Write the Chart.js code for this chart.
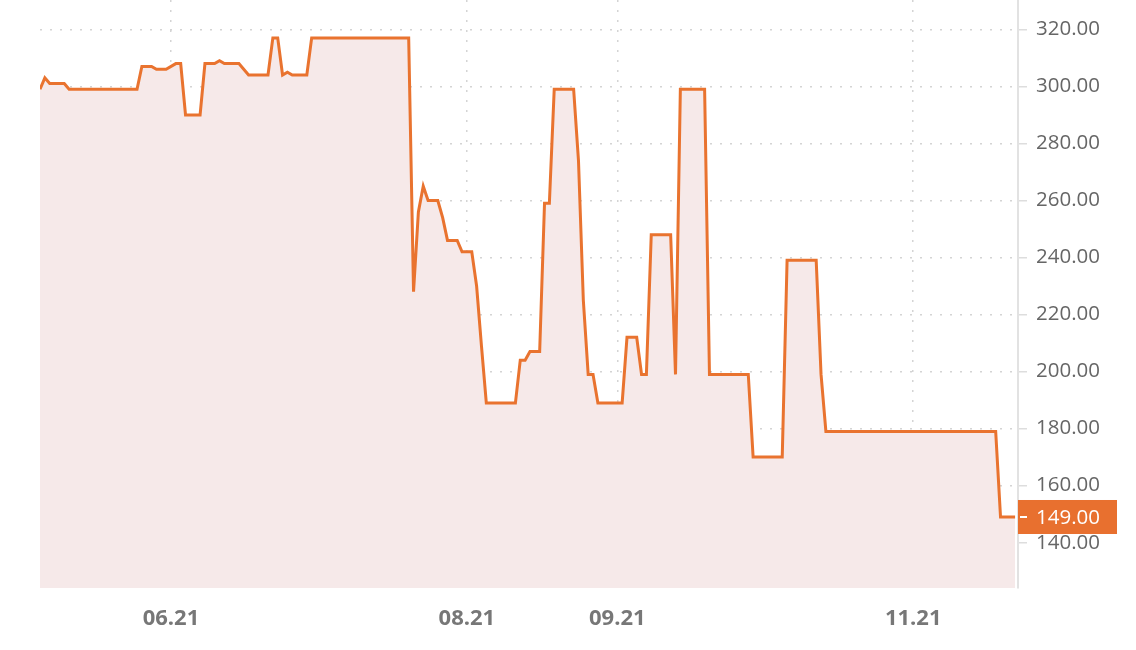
<!DOCTYPE html>
<html>
<head>
<meta charset="utf-8">
<script src="https://cdn.jsdelivr.net/npm/chart.js@4"></script>
<style>
    html, body { margin: 0; padding: 0; background: #ffffff; }
    #wrap { width: 1136px; height: 650px; }
</style>
</head>
<body>
<div id="wrap"><canvas id="priceChart" width="1136" height="650"></canvas></div>
<script>
// Daily closing prices (only the days where the line changes direction)
const dates = [
    '2021-05-05', '2021-05-06', '2021-05-07', '2021-05-10', '2021-05-11', '2021-05-25',
    '2021-05-26', '2021-05-28', '2021-05-29', '2021-05-31', '2021-06-02', '2021-06-03',
    '2021-06-04', '2021-06-07', '2021-06-08', '2021-06-10', '2021-06-11', '2021-06-12',
    '2021-06-15', '2021-06-17', '2021-06-21', '2021-06-22', '2021-06-23', '2021-06-24',
    '2021-06-25', '2021-06-26', '2021-06-29', '2021-06-30', '2021-07-20', '2021-07-21',
    '2021-07-22', '2021-07-23', '2021-07-24', '2021-07-26', '2021-07-27', '2021-07-28',
    '2021-07-30', '2021-07-31', '2021-08-02', '2021-08-03', '2021-08-04', '2021-08-05',
    '2021-08-11', '2021-08-12', '2021-08-13', '2021-08-14', '2021-08-16', '2021-08-17',
    '2021-08-18', '2021-08-19', '2021-08-23', '2021-08-24', '2021-08-25', '2021-08-26',
    '2021-08-27', '2021-08-28', '2021-09-02', '2021-09-03', '2021-09-05', '2021-09-06',
    '2021-09-07', '2021-09-08', '2021-09-12', '2021-09-13', '2021-09-14', '2021-09-19',
    '2021-09-20', '2021-09-28', '2021-09-29', '2021-10-05', '2021-10-06', '2021-10-12',
    '2021-10-13', '2021-10-14', '2021-11-18', '2021-11-19', '2021-11-22'
];
const prices = [
    299, 303, 301, 301, 299, 299,
    307, 307, 306, 306, 308, 308,
    290, 290, 308, 308, 309, 308,
    308, 304, 304, 317, 317, 304,
    305, 304, 304, 317, 317, 228,
    256, 265, 260, 260, 254, 246,
    246, 242, 242, 230, 209, 189,
    189, 204, 204, 207, 207, 259,
    259, 299, 299, 274, 225, 199,
    199, 189, 189, 212, 212, 199,
    199, 248, 248, 199, 299, 299,
    199, 199, 170, 170, 239, 239,
    199, 179, 179, 149, 149
];

// Axis ticks
const monthTicks = ['2021-06-01', '2021-08-01', '2021-09-01', '2021-11-01'];
const monthLabels = ['06.21', '08.21', '09.21', '11.21'];
const priceTicks = [140, 160, 180, 200, 220, 240, 260, 280, 300, 320];

const ORANGE = '#e9732f';
const DAY = 86400000;

function dayNum(s) {
    const p = s.split('-').map(Number);
    return Date.UTC(p[0], p[1] - 1, p[2]) / DAY;
}

const points = dates.map((d, i) => ({ x: dayNum(d), y: prices[i] }));

// no extra label padding, the plot runs to the top edge
function noPadding(s) {
    s.paddingTop = 0;
    s.paddingBottom = 0;
    s.paddingLeft = 0;
    s.paddingRight = 0;
}

// last-price badge on the right axis
const lastPriceBadge = {
    id: 'lastPriceBadge',
    afterDraw(chart) {
        const ctx = chart.ctx;
        const yScale = chart.scales.y;
        const area = chart.chartArea;
        const last = prices[prices.length - 1];
        const y = yScale.getPixelForValue(last);

        ctx.save();
        ctx.fillStyle = '#e8702f';
        ctx.fillRect(area.right, y - 17, 99, 34);

        ctx.strokeStyle = '#ffffff';
        ctx.lineWidth = 2;
        ctx.beginPath();
        ctx.moveTo(area.right + 2, y);
        ctx.lineTo(area.right + 9, y);
        ctx.stroke();

        ctx.fillStyle = '#ffffff';
        ctx.font = '20.5px "Open Sans"';
        ctx.textAlign = 'left';
        ctx.textBaseline = 'middle';
        ctx.fillText(last.toFixed(2), area.right + 18, y + 1);
        ctx.restore();
    }
};

new Chart(document.getElementById('priceChart'), {
    type: 'line',
    data: {
        datasets: [{
            data: points,
            borderColor: ORANGE,
            borderWidth: 3,
            backgroundColor: '#f6e9e9',
            fill: 'start',
            pointRadius: 0,
            tension: 0
        }]
    },
    options: {
        responsive: false,
        animation: false,
        layout: { padding: { left: 40, top: 0, right: 0, bottom: 0 } },
        plugins: {
            legend: { display: false },
            tooltip: { enabled: false }
        },
        scales: {
            x: {
                type: 'linear',
                min: dayNum(dates[0]),
                max: dayNum(dates[dates.length - 1]) + 0.6,
                afterBuildTicks: s => { s.ticks = monthTicks.map(d => ({ value: dayNum(d) })); },
                afterFit: s => { s.height = 62; noPadding(s); },
                grid: {
                    color: '#d4d4d4',
                    lineWidth: 1.5,
                    drawTicks: false,
                    tickLength: 0
                },
                border: { display: false, dash: [2, 8] },
                ticks: {
                    autoSkip: false,
                    maxRotation: 0,
                    padding: 18,
                    color: '#777777',
                    font: { family: '"Open Sans"', size: 22, weight: 'bold' },
                    callback: v => monthLabels[monthTicks.findIndex(d => dayNum(d) === v)]
                }
            },
            y: {
                position: 'right',
                min: 124.1,
                max: 330.3,
                afterBuildTicks: s => { s.ticks = priceTicks.map(v => ({ value: v })); },
                afterFit: s => { s.width = 118; noPadding(s); },
                grid: {
                    color: '#d4d4d4',
                    lineWidth: 1.5,
                    tickLength: 9,
                    tickColor: '#dddddd',
                    tickWidth: 1.5
                },
                border: { display: true, color: '#e2e2e2', width: 2, dash: [2, 8] },
                ticks: {
                    padding: 9,
                    color: '#666666',
                    font: { family: '"Open Sans"', size: 20.5 },
                    callback: v => v.toFixed(2)
                }
            }
        }
    },
    plugins: [lastPriceBadge]
});
</script>
</body>
</html>
